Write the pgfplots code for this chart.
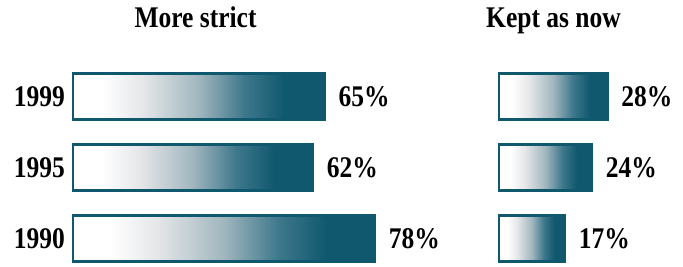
\documentclass[border=0pt]{standalone}
\usepackage{pgfplots}
\pgfplotsset{compat=1.18}
\usepackage{fontspec}
\setmainfont{Liberation Serif}
\definecolor{tealc}{RGB}{16,88,110}
\definecolor{sh1}{RGB}{228,230,232}
\definecolor{sh2}{RGB}{160,182,190}
\definecolor{sh3}{RGB}{62,120,140}
\pgfdeclarehorizontalshading{barshade}{100bp}{color(0bp)=(white); color(25bp)=(white); color(31bp)=(white); color(39bp)=(sh1); color(50bp)=(sh2); color(59bp)=(sh3); color(67bp)=(tealc); color(75bp)=(tealc); color(100bp)=(tealc)}
\newcommand{\bigfont}{\fontsize{30}{32}\selectfont\bfseries}
\pgfplotsset{
  barpanel/.style={
    scale only axis,
    clip=false,
    axis line style={draw=none},
    tick style={draw=none},
    major tick length=0pt,
    xticklabels={},
    xtick=\empty,
    ymin=-0.38, ymax=2.42,
    height=198.8pt,
    bar width=46pt,
    ytick={0,1,2},
    yticklabel style={font=\bigfont, inner sep=0pt, xshift=-8pt, xscale=0.85},
    point meta=x,
    nodes near coords={\pgfmathprintnumber[assume math mode=true]{\pgfplotspointmeta}\%},
    nodes near coords style={font=\bigfont, anchor=west, inner sep=0pt, xshift=13pt, xscale=0.85, text=black},
  },
  onebar/.style={xbar, draw=tealc, line width=2.3pt, shading=barshade},
}
\begin{document}
\begin{tikzpicture}
\begin{axis}[barpanel, at={(73pt,0.52pt)}, anchor=south west,
  xmin=0, xmax=80, width=309.6pt,
  yticklabels={1990,1995,1999}]
\addplot[onebar] coordinates {(65,2)};
\addplot[onebar] coordinates {(62,1)};
\addplot[onebar] coordinates {(78,0)};
\end{axis}
\begin{axis}[barpanel, at={(499pt,0.52pt)}, anchor=south west,
  xmin=0, xmax=35, width=135.45pt,
  yticklabels={}]
\addplot[onebar] coordinates {(28,2)};
\addplot[onebar] coordinates {(24,1)};
\addplot[onebar] coordinates {(17,0)};
\end{axis}
\node[font=\bigfont, anchor=base, xscale=0.85, inner sep=0pt] at (195.5pt,239pt) {More strict};
\node[font=\bigfont, anchor=base, xscale=0.85, inner sep=0pt] at (553.5pt,239pt) {Kept as now};
\pgfresetboundingbox
\path[use as bounding box] (0,0) rectangle (683pt,266pt);
\end{tikzpicture}
\end{document}
